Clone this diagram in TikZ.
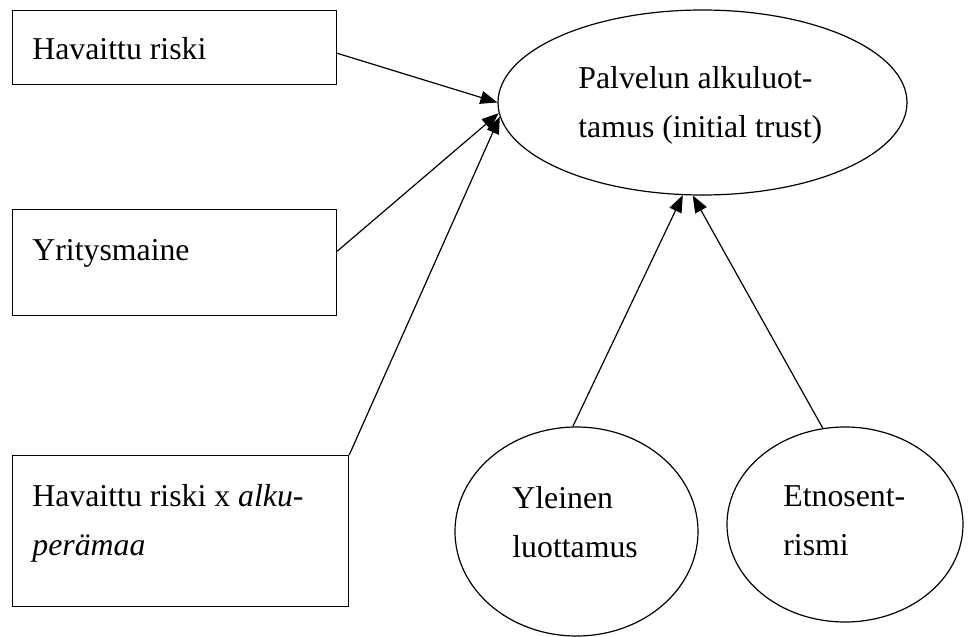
\documentclass[tikz,border=0pt]{standalone}
\usepackage{fontspec}
\setmainfont{Liberation Serif}
\usetikzlibrary{shapes.geometric,arrows.meta}
\tikzset{
    RA/.style ={rectangle, draw, line width=0.6pt, anchor=north west},
    EL/.style ={ellipse, draw, line width=0.6pt},
    TX/.style ={anchor=base west, inner sep=0pt, align=left, font=\fontsize{15.9}{24.25}\selectfont},
    AR/.style ={line width=0.6pt, -{Triangle[length=8.5pt,width=6.5pt]}}}
\begin{document}
\begin{tikzpicture}[x=0.5pt,y=-0.5pt]
        \useasboundingbox (0,0) rectangle (971,637);
        \node[RA, minimum width=162pt, minimum height=37pt] (R1) at (12,10) {};
        \node[RA, minimum width=162pt, minimum height=53pt] (R2) at (12,209) {};
        \node[RA, minimum width=168pt, minimum height=75.5pt] (R3) at (12,455) {};
        \node[EL, minimum width=204.5pt, minimum height=92.5pt] (PA) at (702.5,102.5) {};
        \node[EL, minimum width=121.5pt, minimum height=104.5pt] (YL) at (576.5,531.5) {};
        \node[EL, minimum width=118pt, minimum height=97.5pt] (ET) at (845,524.5) {};
        % base = baseline of the last line
        \node[TX] (T1) at (32,60) {Havaittu riski};
        \node[TX] (T2) at (32,260) {Yritysmaine};
        \node[TX] (T3) at (32,555) {Havaittu riski x \textit{alku-}\\\textit{perämaa}};
        \node[TX] (T4) at (578,137) {Palvelun alkuluot-\\tamus (initial trust)};
        \node[TX] (T5) at (512,557) {Yleinen\\luottamus};
        \node[TX] (T6) at (783,555) {Etnosent-\\rismi};
        \draw[AR] (R1.358) -- (PA.west);
        \draw[AR] (R2.4) -- (PA.183);
        \draw[AR] (R3.north east) -- (PA.184);
        \draw[AR] (YL.92) -- (PA.258);
        \draw[AR] (ET.103) -- (PA.264);
    \end{tikzpicture}
\end{document}
